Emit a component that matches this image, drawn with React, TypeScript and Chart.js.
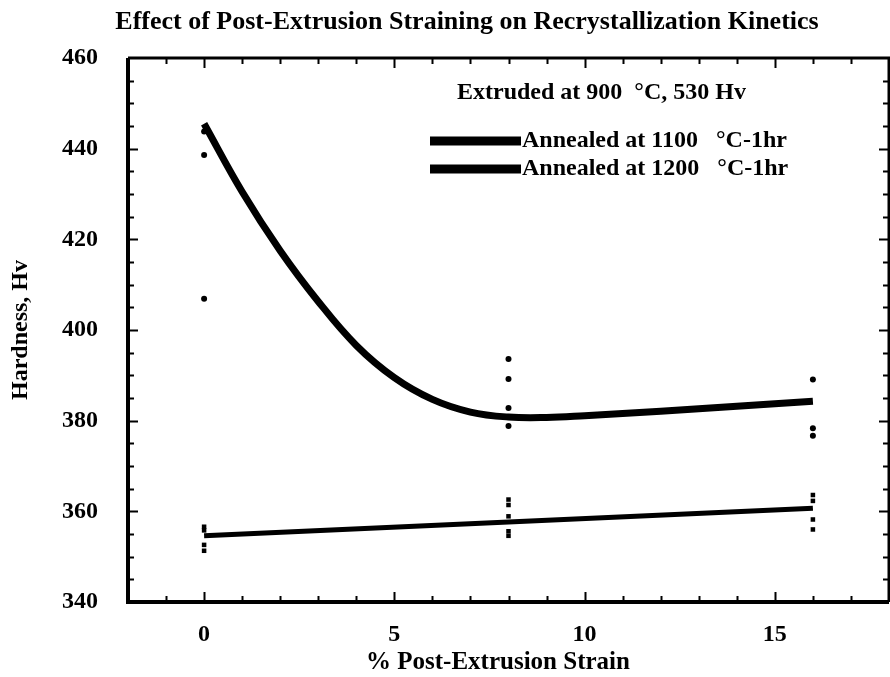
import React, { useEffect, useRef } from 'react';
import { Chart, registerables } from 'chart.js';

Chart.register(...registerables);

const TITLE = 'Effect of Post-Extrusion Straining on Recrystallization Kinetics';
const X_TITLE = '% Post-Extrusion Strain';
const Y_TITLE = 'Hardness, Hv';
const LEGEND_HEADING = 'Extruded at 900  °C, 530 Hv';
const SERIES_NAMES = ['Annealed at 1100   °C-1hr', 'Annealed at 1200   °C-1hr'];

const X_MIN = -2;
const X_MAX = 18;
const Y_MIN = 340;
const Y_MAX = 460;
const X_TICKS = [0, 5, 10, 15];
const Y_STEP = 20;

// fitted curve, 1100 °C anneal
const curve1100X = [0, 1, 2, 3, 4, 5, 6, 7, 8, 9, 10, 12, 14, 16];
const curve1100Y = [445.5, 430.5, 417.5, 406.3, 396.6, 389.5, 384.7, 381.9, 380.8, 380.7, 381.1, 382.1, 383.2, 384.3];

// fitted line, 1200 °C anneal
const fit1200X = [0, 16];
const fit1200Y = [354.6, 360.7];

// measured points, 1100 °C anneal
const pts1100X = [0, 0, 0, 8, 8, 8, 8, 16, 16, 16];
const pts1100Y = [443.8, 438.6, 406.9, 393.6, 389.2, 382.8, 378.8, 389.1, 378.3, 376.7];

// measured points, 1200 °C anneal
const pts1200X = [0, 0, 0, 0, 8, 8, 8, 8, 8, 16, 16, 16, 16];
const pts1200Y = [356.6, 355.8, 352.6, 351.3, 362.6, 361.4, 358.9, 355.6, 354.6, 363.6, 362.3, 358.2, 356.0];

const FONT = '"Liberation Serif", "Times New Roman", Times, serif';

const zip = (xs: number[], ys: number[]) => xs.map((x, i) => ({ x, y: ys[i] }));

const decorPlugin = {
  id: 'decor',
  afterDraw(chart: any) {
    const ctx = chart.ctx as CanvasRenderingContext2D;
    const a = chart.chartArea;
    const xs = chart.scales.x;
    const ys = chart.scales.y;
    ctx.save();
    ctx.fillStyle = '#000';
    ctx.strokeStyle = '#000';

    // tick marks on all four sides, pointing inward
    ctx.lineWidth = 2;
    ctx.beginPath();
    for (let v = xs.min + 1; v < xs.max; v += 1) {
      const px = Math.round(xs.getPixelForValue(v)) + 0.5;
      const len = v % 5 === 0 ? 10 : 6;
      ctx.moveTo(px, a.bottom);
      ctx.lineTo(px, a.bottom - len);
      ctx.moveTo(px, a.top);
      ctx.lineTo(px, a.top + len);
    }
    for (let v = ys.min + 5; v < ys.max; v += 5) {
      const py = Math.round(ys.getPixelForValue(v)) + 0.5;
      const len = v % 20 === 0 ? 10 : 6;
      ctx.moveTo(a.left, py);
      ctx.lineTo(a.left + len, py);
      ctx.moveTo(a.right, py);
      ctx.lineTo(a.right - len, py);
    }
    ctx.stroke();

    // frame
    ctx.lineWidth = 4;
    ctx.beginPath();
    ctx.moveTo(a.left, a.top);
    ctx.lineTo(a.left, a.bottom);
    ctx.lineTo(a.right, a.bottom);
    ctx.stroke();
    ctx.lineWidth = 3;
    ctx.beginPath();
    ctx.moveTo(a.left, a.top);
    ctx.lineTo(a.right, a.top);
    ctx.lineTo(a.right, a.bottom);
    ctx.stroke();

    // chart title
    ctx.textBaseline = 'middle';
    ctx.textAlign = 'center';
    ctx.font = `bold 26px ${FONT}`;
    ctx.fillText(TITLE, 467, 22);

    // x-axis title
    ctx.font = `bold 25px ${FONT}`;
    ctx.fillText(X_TITLE, 498, 663);

    // legend
    ctx.textAlign = 'left';
    ctx.font = `bold 24px ${FONT}`;
    ctx.fillText(LEGEND_HEADING, 457, 93);
    const rows = [141, 169];
    rows.forEach((y, i) => {
      ctx.fillRect(430, y - 4.5, 91, 9);
      ctx.fillText(SERIES_NAMES[i], 522, y);
    });
    ctx.restore();
  },
};

export default function App() {
  const canvasRef = useRef<HTMLCanvasElement | null>(null);

  useEffect(() => {
    const canvas = canvasRef.current;
    if (!canvas) return;
    const chart = new Chart(canvas, {
      type: 'scatter',
      data: {
        datasets: [
          {
            label: SERIES_NAMES[0] + ' fit',
            type: 'line',
            data: zip(curve1100X, curve1100Y),
            borderColor: '#000',
            borderWidth: 7,
            pointRadius: 0,
            tension: 0.4,
            fill: false,
          } as any,
          {
            label: SERIES_NAMES[1] + ' fit',
            type: 'line',
            data: zip(fit1200X, fit1200Y),
            borderColor: '#000',
            borderWidth: 5,
            pointRadius: 0,
            fill: false,
          } as any,
          {
            label: SERIES_NAMES[0],
            data: zip(pts1100X, pts1100Y),
            pointStyle: 'circle',
            pointRadius: 3,
            backgroundColor: '#000',
            borderColor: '#000',
            borderWidth: 0,
          },
          {
            label: SERIES_NAMES[1],
            data: zip(pts1200X, pts1200Y),
            pointStyle: 'rect',
            pointRadius: 3.2,
            backgroundColor: '#000',
            borderColor: '#000',
            borderWidth: 0,
          },
        ],
      },
      options: {
        animation: false,
        responsive: false,
        maintainAspectRatio: false,
        layout: { padding: { top: 58, left: 0, right: 1, bottom: 0 } },
        plugins: {
          legend: { display: false },
          title: { display: false },
          tooltip: { enabled: false },
        },
        scales: {
          x: {
            type: 'linear',
            min: X_MIN,
            max: X_MAX,
            grid: { display: false, drawTicks: false },
            border: { display: false },
            afterBuildTicks: (scale: any) => {
              scale.ticks = X_TICKS.map((v) => ({ value: v }));
            },
            afterFit: (scale: any) => {
              scale.height = 75;
            },
            ticks: {
              color: '#000',
              padding: 18,
              maxRotation: 0,
              font: { family: FONT, size: 24, weight: 'bold' },
            },
          },
          y: {
            type: 'linear',
            min: Y_MIN,
            max: Y_MAX,
            grid: { display: false, drawTicks: false },
            border: { display: false },
            afterFit: (scale: any) => {
              scale.width = 128;
            },
            ticks: {
              stepSize: Y_STEP,
              color: '#000',
              padding: 30,
              font: { family: FONT, size: 24, weight: 'bold' },
            },
            title: {
              display: true,
              text: Y_TITLE,
              color: '#000',
              padding: { top: 6, bottom: 0 },
              font: { family: FONT, size: 24, weight: 'bold' },
            },
          },
        },
      },
      plugins: [decorPlugin],
    });
    return () => chart.destroy();
  }, []);

  return (
    <div
      style={{
        position: 'absolute',
        left: 0,
        top: 0,
        width: 890,
        height: 677,
        overflow: 'hidden',
        background: '#fff',
      }}
    >
      <canvas ref={canvasRef} width={893} height={677} style={{ display: 'block', width: 893, height: 677 }} />
    </div>
  );
}
